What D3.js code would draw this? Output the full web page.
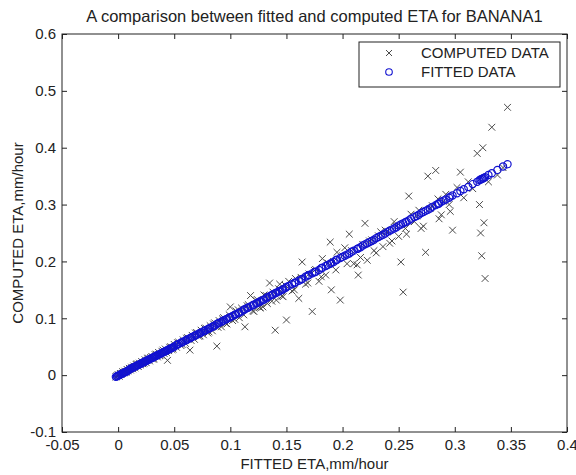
<!DOCTYPE html>
<html lang="en">
<head>
<meta charset="UTF-8">
<title>Fitted vs computed ETA</title>
<script src="https://cdn.jsdelivr.net/npm/d3@7"></script>
<style>
  body { margin: 0; background: #fff; }
  svg text { font-family: "Liberation Sans", Arial, sans-serif; fill: #222; }
</style>
</head>
<body>
<div id="chart"></div>
<script>

// fitted ETA (x axis), mm/hour
var fittedEta = [
  -0.002, -0.001, 0.000, 0.001, 0.002, 0.003, 0.004, 0.005, 0.006, 0.007,
  0.008, 0.009, 0.010, 0.011, 0.012, 0.013, 0.014, 0.015, 0.016, 0.018,
  0.019, 0.020, 0.021, 0.022, 0.024, 0.025, 0.026, 0.028, 0.029, 0.030,
  0.032, 0.033, 0.035, 0.036, 0.038, 0.039, 0.041, 0.042, 0.044, 0.045,
  0.047, 0.048, 0.050,
  0.052, 0.054, 0.056, 0.058, 0.060, 0.062, 0.064, 0.066, 0.068, 0.070,
  0.072, 0.074, 0.076, 0.078, 0.080, 0.082, 0.084, 0.086, 0.088, 0.090,
  0.092, 0.094, 0.097, 0.100, 0.102, 0.105, 0.108, 0.110, 0.113, 0.116,
  0.118, 0.121, 0.124, 0.127, 0.129, 0.130, 0.133, 0.135, 0.138, 0.140,
  0.141, 0.144, 0.147, 0.150,
  0.152, 0.155, 0.158, 0.161, 0.164, 0.167, 0.170, 0.173, 0.176, 0.179,
  0.182, 0.185, 0.189, 0.190, 0.192, 0.195, 0.198, 0.202, 0.206, 0.210,
  0.213, 0.214, 0.218, 0.220, 0.222, 0.226, 0.230, 0.234, 0.238, 0.242,
  0.246, 0.250, 0.252, 0.254, 0.256, 0.259, 0.261, 0.264, 0.268, 0.272,
  0.274, 0.276, 0.280, 0.283, 0.285, 0.288, 0.292, 0.295, 0.296, 0.298,
  0.302, 0.305, 0.308, 0.312, 0.316, 0.320, 0.322, 0.323, 0.324, 0.325,
  0.326, 0.327, 0.330, 0.333, 0.338, 0.343, 0.347,
  0.017, 0.023, 0.027, 0.031, 0.034, 0.037, 0.040, 0.043, 0.046, 0.049,
  0.053, 0.057, 0.061, 0.065, 0.069, 0.073, 0.077, 0.081, 0.085, 0.089,
  0.093, 0.096, 0.099, 0.104, 0.107, 0.112, 0.115, 0.120, 0.123, 0.126,
  0.132, 0.137, 0.143, 0.146, 0.149, 0.157, 0.163, 0.169, 0.175, 0.181,
  0.187, 0.194, 0.200, 0.204, 0.208, 0.216, 0.224, 0.228, 0.232, 0.236,
  0.240, 0.244, 0.248, 0.257, 0.266, 0.270, 0.278, 0.286, 0.290
];

// computed ETA (crosses)
var computedEta = [
  -0.003, -0.001, 0.001, -0.002, 0.003, 0.002, 0.006, 0.004, 0.007, 0.005,
  0.010, 0.008, 0.012, 0.009, 0.014, 0.011, 0.016, 0.013, 0.019, 0.015,
  0.021, 0.018, 0.024, 0.020, 0.027, 0.022, 0.029, 0.025, 0.031, 0.033,
  0.029, 0.036, 0.032, 0.040, 0.035, 0.042, 0.038, 0.046, 0.026, 0.043,
  0.050, 0.045, 0.054,
  0.049, 0.058, 0.052, 0.062, 0.056, 0.066, 0.044, 0.070, 0.063, 0.075,
  0.068, 0.079, 0.071, 0.083, 0.074, 0.087, 0.078, 0.092, 0.051, 0.096,
  0.085, 0.101, 0.090, 0.120, 0.096, 0.113, 0.101, 0.118, 0.085, 0.124,
  0.140, 0.112, 0.133, 0.118, 0.120, 0.141, 0.126, 0.162, 0.146, 0.079,
  0.132, 0.160, 0.138, 0.097,
  0.165, 0.148, 0.170, 0.135, 0.199, 0.160, 0.178, 0.112, 0.186, 0.165,
  0.205, 0.176, 0.234, 0.150, 0.200, 0.216, 0.132, 0.224, 0.248, 0.196,
  0.194, 0.176, 0.230, 0.267, 0.202, 0.238, 0.215, 0.252, 0.255, 0.232,
  0.270, 0.244, 0.199, 0.146, 0.258, 0.315, 0.283, 0.270, 0.290, 0.262,
  0.216, 0.350, 0.298, 0.360, 0.310, 0.282, 0.318, 0.300, 0.288, 0.255,
  0.330, 0.357, 0.312, 0.340, 0.328, 0.390, 0.300, 0.250, 0.210, 0.400,
  0.268, 0.170, 0.340, 0.436, 0.352, 0.365, 0.471,
  0.020, 0.021, 0.030, 0.028, 0.037, 0.034, 0.044, 0.040, 0.049, 0.046,
  0.057, 0.054, 0.065, 0.061, 0.074, 0.069, 0.082, 0.076, 0.090, 0.084,
  0.099, 0.091, 0.106, 0.098, 0.115, 0.106, 0.122, 0.113, 0.131, 0.119,
  0.140, 0.130, 0.152, 0.139, 0.158, 0.150, 0.172, 0.162, 0.184, 0.173,
  0.197, 0.185, 0.210, 0.196, 0.219, 0.207, 0.236, 0.219, 0.245, 0.226,
  0.252, 0.236, 0.262, 0.248, 0.280, 0.258, 0.293, 0.275, 0.306
];

// fitted curve values (circles)
var fittedCurve = [
  -0.003, -0.002, -0.001, 0.000, 0.001, 0.002, 0.003, 0.004, 0.005, 0.006,
  0.007, 0.008, 0.010, 0.011, 0.012, 0.013, 0.014, 0.015, 0.016, 0.018,
  0.019, 0.020, 0.021, 0.022, 0.024, 0.025, 0.026, 0.028, 0.029, 0.030,
  0.032, 0.033, 0.035, 0.036, 0.038, 0.039, 0.041, 0.042, 0.044, 0.045,
  0.047, 0.048, 0.050,
  0.053, 0.055, 0.057, 0.059, 0.061, 0.063, 0.065, 0.067, 0.069, 0.071,
  0.073, 0.075, 0.077, 0.079, 0.081, 0.083, 0.085, 0.087, 0.090, 0.092,
  0.094, 0.096, 0.099, 0.102, 0.104, 0.107, 0.110, 0.112, 0.116, 0.119,
  0.121, 0.124, 0.127, 0.130, 0.132, 0.133, 0.137, 0.139, 0.142, 0.144,
  0.145, 0.148, 0.151, 0.155,
  0.157, 0.160, 0.163, 0.166, 0.169, 0.173, 0.176, 0.179, 0.182, 0.185,
  0.189, 0.192, 0.196, 0.197, 0.199, 0.203, 0.206, 0.210, 0.214, 0.219,
  0.222, 0.223, 0.228, 0.230, 0.232, 0.236, 0.241, 0.245, 0.249, 0.254,
  0.258, 0.263, 0.265, 0.267, 0.269, 0.272, 0.275, 0.278, 0.282, 0.287,
  0.289, 0.291, 0.296, 0.299, 0.301, 0.305, 0.309, 0.312, 0.314, 0.316,
  0.320, 0.324, 0.327, 0.331, 0.336, 0.340, 0.343, 0.344, 0.345, 0.346,
  0.347, 0.348, 0.352, 0.355, 0.361, 0.367, 0.371,
  0.017, 0.023, 0.027, 0.031, 0.034, 0.037, 0.040, 0.043, 0.046, 0.049,
  0.054, 0.058, 0.062, 0.066, 0.070, 0.074, 0.078, 0.082, 0.086, 0.091,
  0.095, 0.098, 0.101, 0.106, 0.109, 0.115, 0.118, 0.123, 0.126, 0.129,
  0.135, 0.141, 0.147, 0.150, 0.153, 0.162, 0.168, 0.175, 0.181, 0.188,
  0.194, 0.202, 0.208, 0.212, 0.217, 0.225, 0.234, 0.238, 0.243, 0.247,
  0.252, 0.256, 0.260, 0.270, 0.280, 0.285, 0.293, 0.302, 0.307
];

var xTicks = [-0.05, 0, 0.05, 0.1, 0.15, 0.2, 0.25, 0.3, 0.35, 0.4];
var xTickLabels = ["-0.05", "0", "0.05", "0.1", "0.15", "0.2", "0.25", "0.3", "0.35", "0.4"];
var yTicks = [-0.1, 0, 0.1, 0.2, 0.3, 0.4, 0.5, 0.6];
var yTickLabels = ["-0.1", "0", "0.1", "0.2", "0.3", "0.4", "0.5", "0.6"];
var seriesNames = ["COMPUTED DATA", "FITTED DATA"];

var W = 576, H = 475;
var margin = {top: 34, right: 9, bottom: 43, left: 62};
var width = W - margin.left - margin.right;
var height = H - margin.top - margin.bottom;

var svg = d3.select("#chart").append("svg")
    .attr("width", W)
    .attr("height", H);

var g = svg.append("g")
    .attr("transform", "translate(" + margin.left + "," + margin.top + ")");

var x = d3.scaleLinear().domain([-0.05, 0.4]).range([0, width]);
var y = d3.scaleLinear().domain([-0.1, 0.6]).range([height, 0]);

function fmt(ticks, labels) {
  return function(d) { return labels[ticks.indexOf(d)]; };
}

// ticks point inward, like the original
var xAxis = g.append("g")
    .attr("transform", "translate(0," + height + ")")
    .call(d3.axisBottom(x).tickValues(xTicks).tickFormat(fmt(xTicks, xTickLabels))
      .tickSizeInner(-5).tickSizeOuter(0).tickPadding(7));
var yAxis = g.append("g")
    .call(d3.axisLeft(y).tickValues(yTicks).tickFormat(fmt(yTicks, yTickLabels))
      .tickSizeInner(-5).tickSizeOuter(0).tickPadding(6));
var xTop = g.append("g")
    .call(d3.axisTop(x).tickValues(xTicks).tickFormat("").tickSizeInner(-5).tickSizeOuter(0));
var yRight = g.append("g")
    .attr("transform", "translate(" + width + ",0)")
    .call(d3.axisRight(y).tickValues(yTicks).tickFormat("").tickSizeInner(-5).tickSizeOuter(0));

[xAxis, yAxis, xTop, yRight].forEach(function(a) {
  a.select(".domain").remove();
  a.selectAll("line").attr("stroke", "#222");
  a.selectAll("text").attr("font-size", 15).style("fill", "#222");
});

g.append("rect")
    .attr("width", width)
    .attr("height", height)
    .attr("fill", "none")
    .attr("stroke", "#222")
    .attr("stroke-width", 1);

var pts = fittedEta.map(function(v, i) {
  return {x: v, c: computedEta[i], f: fittedCurve[i]};
});

// crosses
var cross = g.append("g").attr("stroke", "#4a4a4a").attr("stroke-width", 1);
cross.selectAll("path")
    .data(pts)
    .enter().append("path")
    .attr("d", function(d) {
      var px = x(d.x), py = y(d.c), s = 3.4;
      return "M" + (px - s) + "," + (py - s) + "L" + (px + s) + "," + (py + s) +
             "M" + (px - s) + "," + (py + s) + "L" + (px + s) + "," + (py - s);
    });

// circles
g.append("g").selectAll("circle")
    .data(pts)
    .enter().append("circle")
    .attr("cx", function(d) { return x(d.x); })
    .attr("cy", function(d) { return y(d.f); })
    .attr("r", 3.6)
    .attr("fill", "none")
    .attr("stroke", "#1212d0")
    .attr("stroke-width", 1.2);

// title and axis labels
svg.append("text")
    .attr("x", margin.left + width / 2)
    .attr("y", 22)
    .attr("text-anchor", "middle")
    .attr("font-size", 16.5)
    .text("A comparison between fitted and computed ETA for BANANA1");

svg.append("text")
    .attr("x", margin.left + width / 2)
    .attr("y", 469)
    .attr("text-anchor", "middle")
    .attr("font-size", 15)
    .text("FITTED ETA,mm/hour");

svg.append("text")
    .attr("transform", "translate(23," + (margin.top + height / 2) + ") rotate(-90)")
    .attr("text-anchor", "middle")
    .attr("font-size", 15)
    .text("COMPUTED ETA,mm/hour");

// legend
var legend = svg.append("g").attr("transform", "translate(359,42)");
legend.append("rect")
    .attr("width", 201)
    .attr("height", 45)
    .attr("fill", "#fff")
    .attr("stroke", "#222");

legend.append("path")
    .attr("d", "M27,8L33,14M27,14L33,8")
    .attr("stroke", "#4a4a4a");
legend.append("circle")
    .attr("cx", 30).attr("cy", 30).attr("r", 3.3)
    .attr("fill", "none").attr("stroke", "#1212d0").attr("stroke-width", 1.1);

legend.selectAll("text.lbl")
    .data(seriesNames)
    .enter().append("text")
    .attr("class", "lbl")
    .attr("x", 62)
    .attr("y", function(d, i) { return 16 + i * 19; })
    .attr("font-size", 15)
    .text(function(d) { return d; });

</script>
</body>
</html>
